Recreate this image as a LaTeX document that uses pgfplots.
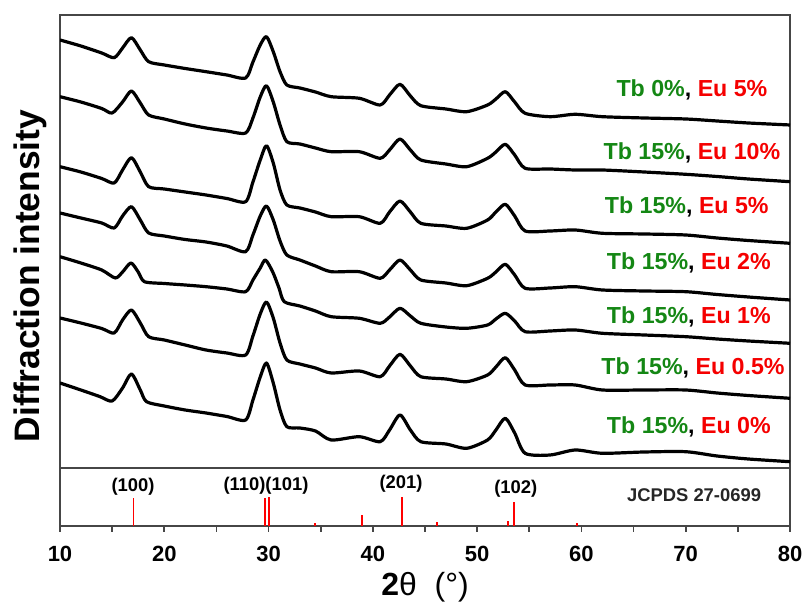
\documentclass[border=0pt]{standalone}
\usepackage{fontspec}
\setmainfont{Liberation Sans}
\usepackage{pgfplots}
\usepackage{pgfplotstable}
\pgfplotsset{compat=1.18}
\definecolor{tbgreen}{RGB}{20,135,20}
\definecolor{eured}{RGB}{245,0,0}
\definecolor{framegray}{RGB}{70,70,70}

% XRD curves, top to bottom; py = height read downward from the top of the figure
\pgfplotstableread{
x py
10 40
12 46
14 53
15.2 57.7
16 48
16.85 37.7
17.7 50
18.5 61.7
20 65
22 68.5
24 71.7
26 75
27.8 78
28.5 62
29.2 45
29.8 36.7
30.45 51.7
31.1 71.7
31.75 85
33 88
34.5 92
36 96.7
38.7 98.3
40.7 105
41.6 95
42.6 84.3
43.6 96
44.6 105.7
47 109
49 111.7
51 105
51.8 99
52.7 91.7
53.6 102
54.6 113.3
57 116.7
59.4 114.3
62 116.7
66 118
70 119
73 121
76 123
80 125
}\curveA
\pgfplotstableread{
x py
10 96.7
12 102
14 108.5
15.0 113
16 102
16.85 91
17.7 103
18.5 115
20 119
22 124
24 128
26 131
27.8 133
28.5 118
29.2 97
29.8 85.7
30.45 102
31.1 125
31.75 141.7
33 144
34.5 148
36 151.7
38.7 151.7
40.7 158.3
41.6 150
42.6 139
43.6 150
44.6 160
47 164
49 166.7
51 158.3
51.8 152
52.7 144.3
53.6 155
54.6 168.3
57 169
59.4 170
62 170
66 172
70 174.3
73 176.5
76 179
80 181.7
}\curveB
\pgfplotstableread{
x py
10 166.7
12 172
14 178.5
15.2 183
16 170
16.85 157.7
17.7 172
18.5 186.7
20 189
22 192
24 195
26 198.5
27.8 201.7
28.5 182
29.2 160
29.8 145.7
30.45 163
31.1 190
31.75 205
33 208
34.5 212
36 216.7
38.7 216.7
40.7 223.3
41.6 212
42.6 201
43.6 212
44.6 223.3
47 226
49 228.3
51 220
51.8 212
52.7 204.3
53.6 216
54.6 231
57 231
59.4 230
62 233.3
66 234
70 235
73 238
76 240.5
80 243.3
}\curveC
\pgfplotstableread{
x py
10 213
12 218
14 223
15.2 228
16 216
16.85 206.7
17.7 220
18.5 233
20 236
22 239.5
24 242
26 246
27.8 251.7
28.5 235
29.2 216
29.8 206
30.45 220
31.1 241
31.75 255
33 260
34.5 266
36 271.7
38.7 271.7
40.7 278.3
41.6 270
42.6 260
43.6 270
44.6 280
47 283
49 285.7
51 278.3
51.8 272
52.7 264.3
53.6 275
54.6 288.3
57 288
59.4 286.7
62 290
66 291
70 291.7
73 294.5
76 297
80 300
}\curveD
\pgfplotstableread{
x py
10 256.7
12 263
14 270
15.3 278
16 272
16.8 263
17.5 272
18.1 281.7
20 283.5
22 285
24 286.7
26 289
27.8 291.7
28.5 280
29.2 268
29.7 260
30.4 272
31.0 288
31.5 301.7
33 306
34.5 311
36 316.7
38.7 318.3
40.7 323.3
41.6 317
42.6 308.3
43.6 316
44.6 323.3
47 327
49 328.3
51 325
51.8 319
52.7 313.3
53.6 321
54.6 331.7
57 331
59.4 330
62 333.3
66 335
70 336.7
73 339
76 341
80 343.3
}\curveE
\pgfplotstableread{
x py
10 318
12 323
14 328.5
15.2 333
16 320
16.85 310
17.7 323
18.5 336.7
20 340
22 345
24 350
26 353
27.8 355
28.5 336
29.2 314
29.8 302
30.45 318
31.1 343
31.75 360
33 364
34.5 368
36 373
38.7 371
40.7 376.7
41.6 366
42.6 354.3
43.6 366
44.6 376.7
47 379
49 381.7
51 375
51.8 367
52.7 357.7
53.6 370
54.6 385
57 385
59.4 385
62 390
66 390
70 390
73 393
76 395.5
80 398.3
}\curveF
\pgfplotstableread{
x py
10 383
12 390
13.8 396.5
15.0 401
16 388
16.85 374
17.7 390
18.3 401.7
20 406
22 410
24 413
26 416.5
27.8 420
28.5 400
29.2 377
29.8 363
30.45 383
31.1 410
31.75 426.7
33 428
34.5 431
36 440
38.7 436.7
40.7 441.7
41.6 430
42.6 415
43.6 430
44.6 441.7
47 444
49 448.3
51 440
51.8 430
52.7 418.3
53.6 433
54.6 453.3
57 455
59.4 450
62 453.3
66 452
70 451.7
73 456
76 459
80 461.7
}\curveG

\pgfplotsset{
  frame/.style={scale only axis, width=365pt, xmin=10, xmax=80,
    axis line style={framegray, line width=0.8pt}},
  xrd/.style={black, line width=1.6pt, line join=round, mark=none, smooth, tension=0.45},
}

\begin{document}
\begin{tikzpicture}
\useasboundingbox (-30pt,-41pt) rectangle (373.5pt,263pt);

% reference pattern
\begin{axis}[frame, at={(0,0)}, anchor=south west, height=29pt,
    ymin=0, ymax=58, ytick=\empty,
    xtick={10,20,...,80}, minor x tick num=1, xtick pos=bottom,
    tick align=outside, major tick length=3pt, minor tick length=3pt,
    tick style={framegray, line width=0.8pt},
    /pgf/number format/assume math mode=true,
    ticklabel style={font=\fontsize{11}{13}\selectfont\bfseries},
    xticklabel style={yshift=-3.5pt},
    xlabel={{\bfseries 2}θ\ \ (°)},
    xlabel style={at={(axis description cs:0.5,0)}, anchor=center, yshift=-30.5pt,
      font=\fontsize{16}{18}\selectfont}]
  \addplot[ycomb, draw=red, line width=0.7pt, mark=none] coordinates {
    (17.05,27.7) (29.66,27.7) (30.04,28.7) (34.45,2.7) (38.96,10.7)
    (42.8,29.3) (46.15,4) (52.96,5) (53.53,23.7) (59.57,2.7)};
  \begin{scope}[font=\fontsize{9.2}{11}\selectfont\bfseries]
    \node at (axis cs:17.0,39) {(100)};
    \node at (axis cs:29.75,40) {(110)(101)};
    \node at (axis cs:42.7,42.5) {(201)};
    \node at (axis cs:53.7,37.5) {(102)};
    \node[text=black!85] at (axis cs:70.8,31) {JCPDS 27-0699};
  \end{scope}
\end{axis}

% XRD patterns
\begin{axis}[frame, at={(0,29pt)}, anchor=south west, height=226.5pt,
    ymin=0, ymax=453, xtick=\empty, ytick=\empty,
    ylabel={Diffraction intensity},
    ylabel style={at={(axis description cs:-0.041,0.424)}, anchor=center,
      font=\fontsize{17.7}{20}\selectfont\bfseries}]
  \addplot[xrd] table[x=x, y expr=468-\thisrow{py}] {\curveA};
  \addplot[xrd] table[x=x, y expr=468-\thisrow{py}] {\curveB};
  \addplot[xrd] table[x=x, y expr=468-\thisrow{py}] {\curveC};
  \addplot[xrd] table[x=x, y expr=468-\thisrow{py}] {\curveD};
  \addplot[xrd] table[x=x, y expr=468-\thisrow{py}] {\curveE};
  \addplot[xrd] table[x=x, y expr=468-\thisrow{py}] {\curveF};
  \addplot[xrd] table[x=x, y expr=468-\thisrow{py}] {\curveG};
  \begin{scope}[font=\fontsize{11.6}{14}\selectfont\bfseries]
    \node at (axis cs:70.6,378) {\textcolor{tbgreen}{Tb 0\%}, \textcolor{eured}{Eu 5\%}};
    \node at (axis cs:70.6,314.7) {\textcolor{tbgreen}{Tb 15\%}, \textcolor{eured}{Eu 10\%}};
    \node at (axis cs:70.1,261.3) {\textcolor{tbgreen}{Tb 15\%}, \textcolor{eured}{Eu 5\%}};
    \node at (axis cs:70.3,204.7) {\textcolor{tbgreen}{Tb 15\%}, \textcolor{eured}{Eu 2\%}};
    \node at (axis cs:70.3,151.3) {\textcolor{tbgreen}{Tb 15\%}, \textcolor{eured}{Eu 1\%}};
    \node at (axis cs:70.7,99.7) {\textcolor{tbgreen}{Tb 15\%}, \textcolor{eured}{Eu 0.5\%}};
    \node at (axis cs:70.3,41.3) {\textcolor{tbgreen}{Tb 15\%}, \textcolor{eured}{Eu 0\%}};
  \end{scope}
\end{axis}
\end{tikzpicture}
\end{document}
